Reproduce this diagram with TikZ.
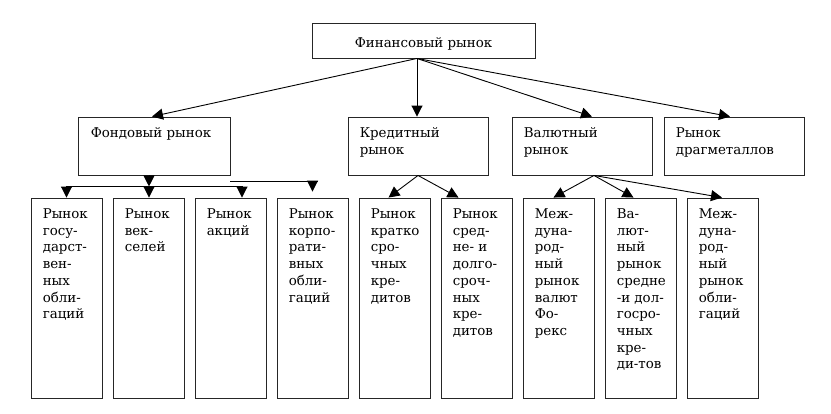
\documentclass[tikz,border=0pt]{standalone}
\usepackage{fontspec}
\setmainfont{DejaVu Serif}
\usetikzlibrary{arrows.meta,calc}
\tikzset{
  boxnode/.style={draw=black!85, line width=0.9pt, inner sep=0pt, fill=white},
  leaf/.style={boxnode, minimum width=71pt, minimum height=200pt},
  lvl/.style={boxnode, minimum height=58pt},
  txt/.style={anchor=base west, inner sep=0pt, font=\fontsize{13.4}{16.7}\selectfont},
  conn/.style={line width=0.9pt, draw=black},
  arr/.style={conn, -{Triangle[length=11pt,width=11pt]}}
}
\newcommand{\boxtext}[2][60pt]{\parbox[t]{#1}{\raggedright #2}}
\begin{document}
\begin{tikzpicture}[x=1pt,y=-1pt]
\useasboundingbox (0,0) rectangle (831,413);
% top
\node[boxnode, minimum width=223pt, minimum height=35pt] (top) at (423.5,40.5) {};
\node[anchor=base, inner sep=0pt, font=\fontsize{13.4}{16.7}\selectfont] (toptxt) at (423.5,47) {Финансовый рынок};
% level 2
\node[lvl, minimum width=152pt] (fond) at (154,146) {};
\node[lvl, minimum width=140pt] (kred) at (418,146) {};
\node[lvl, minimum width=140pt] (val) at (582,146) {};
\node[lvl, minimum width=140pt] (drag) at (734,146) {};
\node[txt] (fondtxt) at ($(fond.north west)+(13,21)$) {\boxtext[135pt]{Фондовый рынок}};
\node[txt] (kredtxt) at ($(kred.north west)+(12,21)$) {\boxtext[125pt]{Кредитный\\рынок}};
\node[txt] (valtxt) at ($(val.north west)+(12,21)$) {\boxtext[125pt]{Валютный\\рынок}};
\node[txt] (dragtxt) at ($(drag.north west)+(12,21)$) {\boxtext[125pt]{Рынок\\драгметаллов}};
% leaves
\node[leaf] (b1) at (66.5,298) {};
\node[leaf] (b2) at (148.5,298) {};
\node[leaf] (b3) at (230.5,298) {};
\node[leaf] (b4) at (312.5,298) {};
\node[leaf] (b5) at (394.5,298) {};
\node[leaf] (b6) at (476.5,298) {};
\node[leaf] (b7) at (558.5,298) {};
\node[leaf] (b8) at (640.5,298) {};
\node[leaf] (b9) at (722.5,298) {};
\node[txt] (t1) at ($(b1.north west)+(12,21)$) {\boxtext{Рынок\\госу-\\дарст-\\вен-\\ных\\обли-\\гаций}};
\node[txt] (t2) at ($(b2.north west)+(12,21)$) {\boxtext{Рынок\\век-\\селей}};
\node[txt] (t3) at ($(b3.north west)+(12,21)$) {\boxtext{Рынок\\акций}};
\node[txt] (t4) at ($(b4.north west)+(12,21)$) {\boxtext{Рынок\\корпо-\\рати-\\вных\\обли-\\гаций}};
\node[txt] (t5) at ($(b5.north west)+(12,21)$) {\boxtext{Рынок\\кратко\\сро-\\чных\\кре-\\дитов}};
\node[txt] (t6) at ($(b6.north west)+(12,21)$) {\boxtext{Рынок\\сред-\\не- и\\долго-\\сроч-\\ных\\кре-\\дитов}};
\node[txt] (t7) at ($(b7.north west)+(12,21)$) {\boxtext{Меж-\\дуна-\\род-\\ный\\рынок\\валют\\Фо-\\рекс}};
\node[txt] (t8) at ($(b8.north west)+(12,21)$) {\boxtext{Ва-\\лют-\\ный\\рынок\\средне\\-и дол-\\госро-\\чных\\кре-\\ди-тов}};
\node[txt] (t9) at ($(b9.north west)+(12,21)$) {\boxtext{Меж-\\дуна-\\род-\\ный\\рынок\\обли-\\гаций}};
% top connectors
\coordinate (o) at ($(top.south)+(-6.5,0)$);
\draw[arr] (o) -- ($(fond.north)+(-2,0)$);
\draw[arr] (o) -- (o |- kred.north);
\draw[arr] (o) -- ($(val.north)+(10,0)$);
\draw[arr] (o) -- ($(drag.north)+(-4,0)$);
% stock market branch
\coordinate (fs) at ($(fond.south)+(-5,0)$);
\coordinate (bar) at ($(fs)+(0,11)$);
\draw[arr] (fs) -- (bar);
\draw[conn] (bar -| b1.north) -- ($(bar -| b3.north)+(11.5,0)$);
\draw[arr] (bar -| b1.north) -- (b1.north);
\draw[arr] (bar) -- (bar |- b2.north);
\draw[arr] ($(bar -| b3.north)+(11.5,0)$) -- ($(b3.north)+(11.5,0)$);
\coordinate (bar2a) at ($(fond.east |- fond.south)+(0,6)$);
\coordinate (bar2b) at ($(bar2a -| b4.north)+(5.5,0)$);
\draw[conn] (bar2a) -- (bar2b);
\draw[arr] (bar2a -| b4.north) -- ($(b4.north)+(0,-6)$);
% credit branch
\coordinate (ks) at (kred.south);
\draw[arr] (ks) -- ($(b5.north)+(-6,0)$);
\draw[arr] (ks) -- ($(b6.north)+(-18,0)$);
% currency branch
\coordinate (vs) at ($(val.south)+(12,0)$);
\draw[arr] (vs) -- ($(b7.north)+(-5,0)$);
\draw[arr] (vs) -- ($(b8.north)+(-7,0)$);
\draw[arr] (vs) -- ($(b9.north)+(-0.5,0)$);
\end{tikzpicture}
\end{document}
